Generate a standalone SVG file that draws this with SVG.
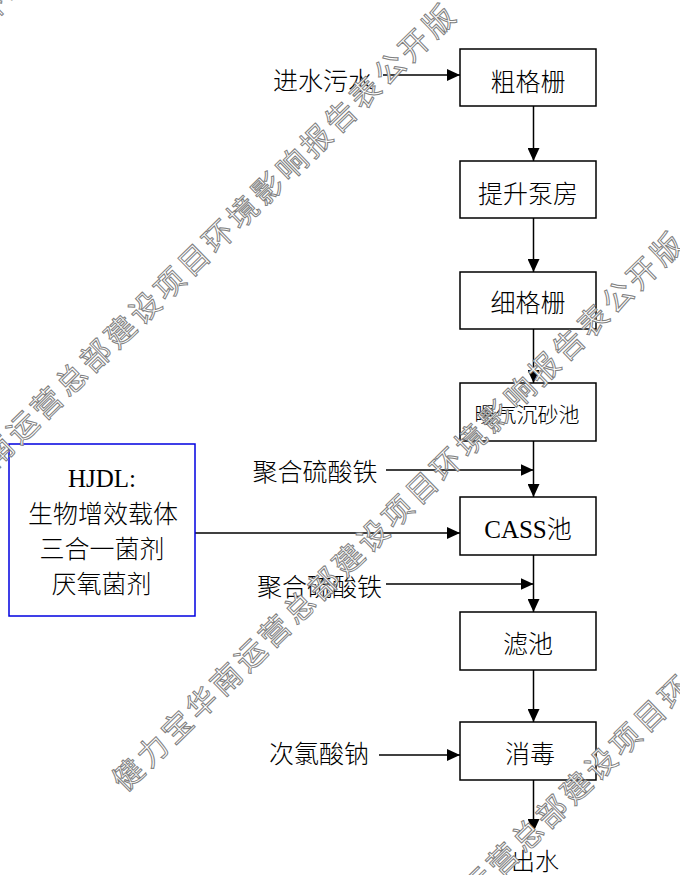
<svg xmlns="http://www.w3.org/2000/svg" width="680" height="875" viewBox="0 0 680 875">
<style>
.box{fill:#fff;stroke:#000;stroke-width:1.5}
.hj{fill:#fff;stroke:#0000e0;stroke-width:1.5}
.ln{fill:none;stroke:#000;stroke-width:1.5}
.t{font-family:"Liberation Serif","Noto Sans CJK SC",serif;font-size:25px;font-weight:300;fill:#000;text-anchor:middle}
.s{font-size:21px}
.o{font-size:24px}
.wm{font-family:"Noto Sans CJK SC","Noto Sans",sans-serif;font-size:30px;letter-spacing:4.2px;fill:#fff;stroke:#808080;stroke-width:1}
</style>
<defs>
<marker id="ah" markerUnits="userSpaceOnUse" markerWidth="13" markerHeight="12" refX="13" refY="6" orient="auto" viewBox="0 0 13 12">
<path d="M0,0 L13,6 L0,12 z" fill="#000"/>
</marker>
</defs>
<rect width="680" height="875" fill="#fff"/>
<g id="connectors">
<line class="ln" x1="383" y1="75" x2="460" y2="75" marker-end="url(#ah)"/>
<line class="ln" x1="533.5" y1="106" x2="533.5" y2="161" marker-end="url(#ah)"/>
<line class="ln" x1="533.5" y1="218" x2="533.5" y2="272" marker-end="url(#ah)"/>
<line class="ln" x1="533.5" y1="329" x2="533.5" y2="383" marker-end="url(#ah)"/>
<line class="ln" x1="533.5" y1="441" x2="533.5" y2="497" marker-end="url(#ah)"/>
<line class="ln" x1="386" y1="470" x2="533.5" y2="470" marker-end="url(#ah)"/>
<line class="ln" x1="195" y1="533" x2="460" y2="533" marker-end="url(#ah)"/>
<line class="ln" x1="533.5" y1="555" x2="533.5" y2="612" marker-end="url(#ah)"/>
<line class="ln" x1="386" y1="584" x2="533.5" y2="584" marker-end="url(#ah)"/>
<line class="ln" x1="533.5" y1="670" x2="533.5" y2="722" marker-end="url(#ah)"/>
<line class="ln" x1="379" y1="755" x2="460" y2="755" marker-end="url(#ah)"/>
<line class="ln" x1="533.5" y1="780" x2="533.5" y2="832" marker-end="url(#ah)"/>
</g>
<g id="n-cugeshan"><rect class="box" x="460" y="49" width="136" height="57"/><text class="t" x="528" y="91">粗格栅</text></g>
<g id="n-tisheng"><rect class="box" x="460" y="161" width="136" height="57"/><text class="t" x="528" y="202.5">提升泵房</text></g>
<g id="n-xigeshan"><rect class="box" x="460" y="272" width="136" height="57"/><text class="t" x="528" y="312">细格栅</text></g>
<g id="n-chensha"><rect class="box" x="460" y="383" width="136" height="58"/><text class="t s" x="527" y="422">曝气沉砂池</text></g>
<g id="n-cass"><rect class="box" x="460" y="497" width="136" height="58"/><text class="t" x="528" y="537.5">CASS池</text></g>
<g id="n-lvchi"><rect class="box" x="460" y="612" width="136" height="58"/><text class="t" x="528" y="652.5">滤池</text></g>
<g id="n-xiaodu"><rect class="box" x="460" y="722" width="136" height="58"/><text class="t" x="530" y="762.5">消毒</text></g>
<g id="n-hjdl"><rect class="hj" x="9" y="444" width="186" height="172"/>
<text class="t" x="102" y="486.5">HJDL:</text>
<text class="t" x="103" y="522.5">生物增效载体</text>
<text class="t" x="102" y="557.5">三合一菌剂</text>
<text class="t" x="101.5" y="592.5">厌氧菌剂</text></g>
<g id="n-jinshui"><text class="t" x="323" y="89.5">进水污水</text></g>
<g id="n-pfs1"><text class="t" x="315" y="481">聚合硫酸铁</text></g>
<g id="n-pfs2"><text class="t" x="319.5" y="596">聚合硫酸铁</text></g>
<g id="n-naclo"><text class="t" x="319" y="762.5">次氯酸钠</text></g>
<g id="n-chushui"><text class="t o" x="535" y="870">出水</text></g>
<g id="watermark">
<text class="wm" transform="translate(-331,337) rotate(-44.3)">健力宝华南运营总部建设项目环境影响报告表公开版</text>
<text class="wm" transform="translate(-103,565) rotate(-44.3)">健力宝华南运营总部建设项目环境影响报告表公开版</text>
<text class="wm" transform="translate(125,793) rotate(-44.3)">健力宝华南运营总部建设项目环境影响报告表公开版</text>
<text class="wm" transform="translate(353,1021) rotate(-44.3)">健力宝华南运营总部建设项目环境影响报告表公开版</text>
</g>
</svg>
